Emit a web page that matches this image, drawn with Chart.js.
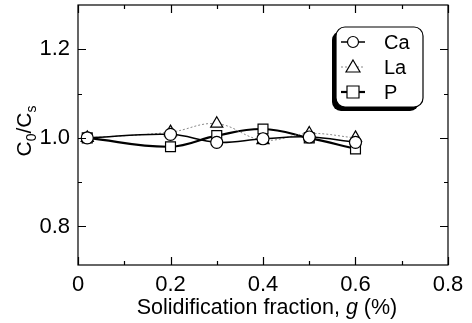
<!DOCTYPE html>
<html>
<head>
<meta charset="utf-8">
<script src="https://cdn.jsdelivr.net/npm/chart.js@4"></script>
<style>
  html, body { margin: 0; padding: 0; background: #fff; }
  #wrap { width: 472px; height: 323px; }
</style>
</head>
<body>
<div id="wrap"><canvas id="ratioChart" width="472" height="323"></canvas></div>
<script>
// values
const fractions = [0.02, 0.2, 0.3, 0.4, 0.5, 0.6];
const caValues = [1.0, 1.008, 0.99, 0.998, 1.002, 0.99];
const laValues = [1.0, 1.013, 1.032, 0.995, 1.01, 1.0];
const pValues = [1.0, 0.98, 1.005, 1.02, 1.0, 0.975];
const seriesNames = ["Ca", "La", "P"];
const xTicks = [0, 0.2, 0.4, 0.6, 0.8];
const yTicks = [0.8, 1.0, 1.2];

const FONT = "Liberation Sans, Arial, sans-serif";

const pts = (vals) => fractions.map((x, i) => ({ x: x, y: vals[i] }));

// inward ticks on all four sides + axis titles
const frameTicks = {
  id: "frameTicks",
  afterDraw(chart) {
    const { ctx, chartArea: a, scales: { x, y } } = chart;
    ctx.save();
    ctx.strokeStyle = "#000";
    ctx.lineWidth = 1.2;
    ctx.strokeRect(a.left, a.top, a.right - a.left, a.bottom - a.top);
    for (let v = 0; v <= 0.8001; v += 0.1) {
      const px = Math.round(x.getPixelForValue(v)) + 0.5;
      const major = Math.abs(v * 5 - Math.round(v * 5)) < 1e-6;
      const len = major ? 8 : 4;
      ctx.beginPath();
      ctx.moveTo(px, a.bottom); ctx.lineTo(px, a.bottom - len);
      ctx.moveTo(px, a.top); ctx.lineTo(px, a.top + len);
      ctx.stroke();
    }
    for (let v = 0.8; v <= 1.2001; v += 0.1) {
      const py = Math.round(y.getPixelForValue(v)) + 0.5;
      const major = yTicks.some(t => Math.abs(t - v) < 1e-6);
      const len = major ? 8 : 4;
      ctx.beginPath();
      ctx.moveTo(a.left, py); ctx.lineTo(a.left + len, py);
      ctx.moveTo(a.right, py); ctx.lineTo(a.right - len, py);
      ctx.stroke();
    }

    // x title with italic g
    ctx.fillStyle = "#000";
    ctx.textBaseline = "alphabetic";
    const parts = [["Solidification fraction, ", "normal"], ["g", "italic"], [" (%)", "normal"]];
    let total = 0;
    parts.forEach(p => { ctx.font = p[1] + " 21.5px " + FONT; total += ctx.measureText(p[0]).width; });
    let tx = (a.left + a.right) / 2 - total / 2 + 4;
    parts.forEach(p => {
      ctx.font = p[1] + " 21.5px " + FONT;
      ctx.fillText(p[0], tx, 314);
      tx += ctx.measureText(p[0]).width;
    });

    // y title C0/Cs, rotated
    ctx.translate(31, 131);
    ctx.rotate(-Math.PI / 2);
    const yParts = [["C", 21, 0], ["0", 14, 5], ["/C", 21, 0], ["s", 14, 5]];
    let w = 0;
    yParts.forEach(p => { ctx.font = p[1] + "px " + FONT; w += ctx.measureText(p[0]).width; });
    let ty = -w / 2;
    yParts.forEach(p => {
      ctx.font = p[1] + "px " + FONT;
      ctx.fillText(p[0], ty, p[2]);
      ty += ctx.measureText(p[0]).width;
    });
    ctx.restore();
  }
};

// boxed legend with shadow, drawn inside the plot
const boxLegend = {
  id: "boxLegend",
  afterDraw(chart) {
    const { ctx } = chart;
    const bx = 336, by = 27, bw = 87, bh = 80, r = 9;
    ctx.save();
    const rr = (x0, y0) => {
      ctx.beginPath();
      ctx.roundRect(x0, y0, bw, bh, r);
    };
    rr(bx - 4, by + 4);
    ctx.fillStyle = "#000";
    ctx.fill();
    rr(bx, by);
    ctx.fillStyle = "#fff";
    ctx.fill();
    ctx.lineWidth = 1.2;
    ctx.strokeStyle = "#000";
    ctx.stroke();

    chart.data.datasets.forEach((ds, i) => {
      const cy = by + 15 + i * 25;
      const cx = bx + 17;
      ctx.strokeStyle = ds.borderColor;
      ctx.lineWidth = ds.borderWidth;
      ctx.setLineDash(ds.borderDash || []);
      ctx.beginPath();
      ctx.moveTo(cx - 12, cy); ctx.lineTo(cx + 12, cy);
      ctx.stroke();
      ctx.setLineDash([]);
      ctx.lineWidth = 1.2;
      ctx.strokeStyle = "#000";
      ctx.fillStyle = "#fff";
      ctx.beginPath();
      if (ds.pointStyle === "circle") {
        ctx.arc(cx, cy, 5.5, 0, Math.PI * 2);
      } else if (ds.pointStyle === "rect") {
        ctx.rect(cx - 6, cy - 6, 12, 12);
      } else {
        ctx.moveTo(cx, cy - 7); ctx.lineTo(cx + 7, cy + 5); ctx.lineTo(cx - 7, cy + 5); ctx.closePath();
      }
      ctx.fill();
      ctx.stroke();
      ctx.fillStyle = "#000";
      ctx.font = "20px " + FONT;
      ctx.textBaseline = "middle";
      ctx.fillText(ds.label, bx + 48, cy + 1);
    });
    ctx.restore();
  }
};

new Chart(document.getElementById("ratioChart"), {
  type: "line",
  data: {
    datasets: [
      {
        label: seriesNames[0],
        data: pts(caValues),
        borderColor: "#000",
        borderWidth: 1.5,
        pointStyle: "circle",
        pointRadius: 6,
        pointBackgroundColor: "#fff",
        pointBorderColor: "#000",
        pointBorderWidth: 1.2,
        tension: 0.4
      },
      {
        label: seriesNames[1],
        data: pts(laValues),
        borderColor: "#888",
        borderWidth: 1,
        borderDash: [2, 2],
        pointStyle: "triangle",
        pointRadius: 7,
        pointBackgroundColor: "#fff",
        pointBorderColor: "#000",
        pointBorderWidth: 1.2,
        tension: 0.4
      },
      {
        label: seriesNames[2],
        data: pts(pValues),
        borderColor: "#000",
        borderWidth: 2.2,
        pointStyle: "rect",
        pointRadius: 7,
        pointBackgroundColor: "#fff",
        pointBorderColor: "#000",
        pointBorderWidth: 1.2,
        tension: 0.4
      }
    ]
  },
  options: {
    responsive: false,
    animation: false,
    layout: { autoPadding: false, padding: { top: 5, right: 24, left: 0, bottom: 0 } },
    plugins: { legend: { display: false }, tooltip: { enabled: false } },
    scales: {
      x: {
        type: "linear",
        min: 0, max: 0.8,
        afterFit: (s) => { s.height = 58; s.paddingLeft = 0; s.paddingRight = 0; },
        afterBuildTicks: (s) => { s.ticks = xTicks.map(v => ({ value: v })); },
        grid: { display: false, drawTicks: false },
        border: { display: false },
        ticks: {
          color: "#000",
          padding: 7,
          font: { family: FONT, size: 22 },
          callback: (v) => v === 0 ? "0" : v.toFixed(1)
        }
      },
      y: {
        min: 0.713, max: 1.3,
        afterFit: (s) => { s.width = 78; s.paddingTop = 0; s.paddingBottom = 0; },
        afterBuildTicks: (s) => { s.ticks = yTicks.map(v => ({ value: v })); },
        grid: { display: false, drawTicks: false },
        border: { display: false },
        ticks: {
          color: "#000",
          padding: 8,
          font: { family: FONT, size: 22 },
          callback: (v) => v.toFixed(1)
        }
      }
    }
  },
  plugins: [frameTicks, boxLegend]
});
</script>
</body>
</html>
